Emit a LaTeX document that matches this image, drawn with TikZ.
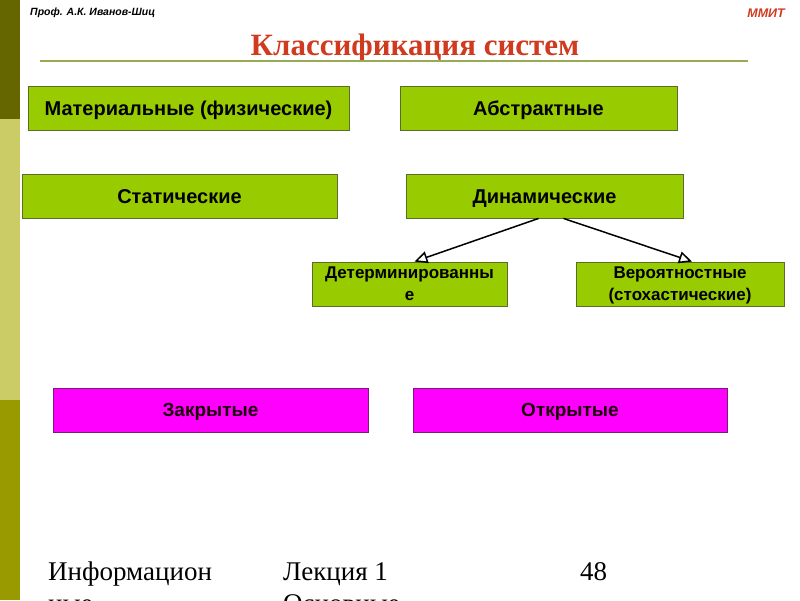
\documentclass[tikz,border=0pt]{standalone}
\usepackage{fontspec}
\setmainfont{Liberation Serif}
\newfontfamily\arialfont{Liberation Sans}
\usetikzlibrary{arrows.meta}

\definecolor{bardark}{HTML}{666600}
\definecolor{barlight}{HTML}{CCCC66}
\definecolor{barmid}{HTML}{999900}
\definecolor{boxgreen}{HTML}{99CC00}
\definecolor{boxedge}{HTML}{5A6E2A}
\definecolor{boxpink}{HTML}{FF00FF}
\definecolor{pinkedge}{HTML}{7A1A7A}
\definecolor{titlered}{HTML}{D03A1E}
\definecolor{ruleolive}{HTML}{99AA55}

\tikzset{
  greenbox/.style={draw=boxedge, line width=0.9pt, fill=boxgreen, inner sep=0pt,
    align=center, text height=14.4pt, text depth=0pt,
    font=\arialfont\bfseries\fontsize{20}{22}\selectfont},
  smallbox/.style={draw=boxedge, line width=0.9pt, fill=boxgreen, inner sep=0pt,
    align=center, text depth=0pt,
    font=\arialfont\bfseries\fontsize{17}{22}\selectfont},
  pinkbox/.style={draw=pinkedge, line width=0.9pt, fill=boxpink, inner sep=0pt,
    align=center, text height=13.7pt, text depth=0pt, text=black!85!purple,
    font=\arialfont\bfseries\fontsize{19}{20}\selectfont},
  foottext/.style={anchor=base west, inner sep=0pt,
    font=\fontsize{27}{32}\selectfont, align=left},
  openarrow/.style={-{Triangle[open, length=13pt, width=12pt]}, line width=1.5pt}
}

\begin{document}
\begin{tikzpicture}[x=1pt, y=-1pt]
      \useasboundingbox (0,0) rectangle (800,600);
      \clip (0,0) rectangle (800,600);

      % left band
      \fill[bardark] (0,0) rectangle (20,119);
      \fill[barlight] (0,119) rectangle (20,400);
      \fill[barmid] (0,400) rectangle (20,600);

      % header
      \node[anchor=base west, inner sep=0pt, font=\arialfont\bfseries\itshape\fontsize{10.5}{12}\selectfont]
        (author) at (30,15) {Проф. А.К. Иванов-Шиц};
      \node[anchor=base east, inner sep=0pt, text=titlered, font=\arialfont\bfseries\itshape\fontsize{12.5}{14}\selectfont]
        (org) at (785,17) {ММИТ};
      \node[anchor=base, inner sep=0pt, text=titlered, font=\bfseries\fontsize{31}{34}\selectfont]
        (title) at (415,55) {Классификация систем};
      \coordinate (ruleL) at (40,61);
      \coordinate (ruleR) at (748,61);
      \draw[ruleolive, line width=1.3pt] (ruleL) -- (ruleR);

      % boxes
      \node[greenbox, minimum width=321pt, minimum height=44pt] (mat) at (188.5,108) {Материальные (физические)};
      \node[greenbox, minimum width=277pt, minimum height=44pt] (abs) at (538.5,108) {Абстрактные};
      \node[greenbox, minimum width=315pt, minimum height=44pt] (stat) at (179.5,196) {Статические};
      \node[greenbox, minimum width=277pt, minimum height=44pt] (dyn) at (544.5,196) {Динамические};
      \node[smallbox, minimum width=195pt, minimum height=44pt] (det) at (409.5,284) {Детерминированны\\е};
      \node[smallbox, minimum width=208pt, minimum height=44pt] (prob) at (680,284) {Вероятностные\\(стохастические)};
      \node[pinkbox, minimum width=315pt, minimum height=44pt] (closed) at (210.5,410) {Закрытые};
      \node[pinkbox, minimum width=314pt, minimum height=44pt] (open) at (570,410) {Открытые};

      \draw[openarrow] ([xshift=-6pt]dyn.south) -- ([xshift=5pt]det.north);
      \draw[openarrow] ([xshift=19pt]dyn.south) -- ([xshift=12pt]prob.north);

      % footer
      \node[foottext] (ftA) at (48,612) {Информацион\\ные};
      \node[foottext] (ftB) at (283,612) {Лекция 1\\Основные};
      \node[foottext] (ftC) at (580,580) {48};
\end{tikzpicture}
\end{document}
